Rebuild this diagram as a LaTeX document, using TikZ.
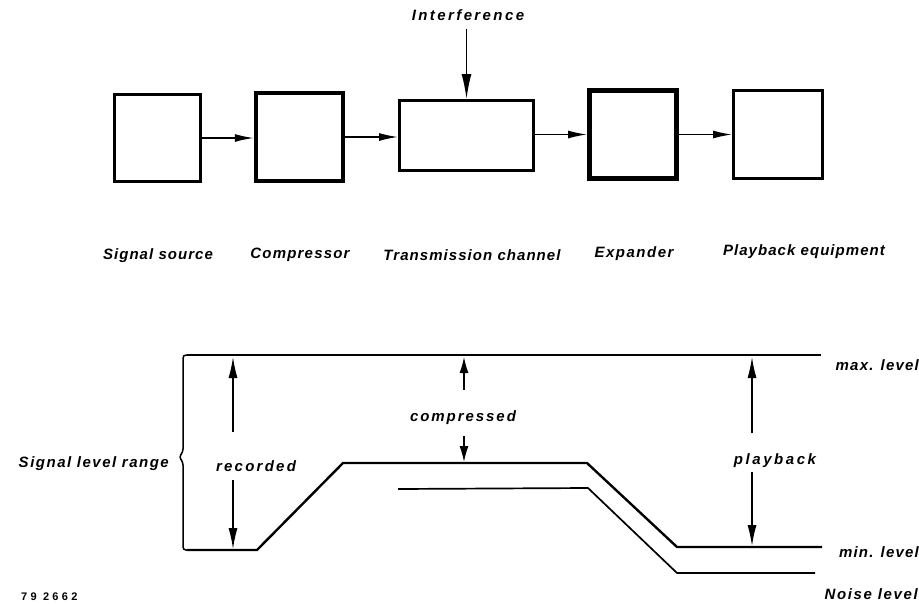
\documentclass[tikz,border=0pt]{standalone}
\usepackage{fontspec}
\setmainfont{Liberation Sans}
\usetikzlibrary{arrows.meta}
\tikzset{
  lab/.style={font=\fontsize{15}{17}\selectfont\bfseries\itshape\addfontfeature{LetterSpace=#1}, inner sep=0pt},
  lab/.default=7,
  blk/.style={draw, rectangle, inner sep=0pt, fill=white},
  arr/.style={line width=1.4pt, -{Latex[length=19pt,width=8pt]}},
  varr/.style={line width=1.3pt, -{Latex[length=21pt,width=9pt]}},
  lvl/.style={line width=2.4pt},
  noise/.style={line width=1.7pt},
}
\begin{document}
\begin{tikzpicture}[x=1pt,y=-1pt]
\useasboundingbox (0,0) rectangle (919,603);
% top blocks
\node[blk, line width=3pt, minimum width=86pt, minimum height=87pt] (b1) at (157.5,138) {};
\node[blk, line width=4.5pt, minimum width=87pt, minimum height=88pt] (b2) at (299.5,137) {};
\node[blk, line width=3pt, minimum width=134pt, minimum height=70pt] (b3) at (466.5,135.5) {};
\node[blk, line width=5pt, minimum width=87pt, minimum height=88pt] (b4) at (633,134.5) {};
\node[blk, line width=3pt, minimum width=89pt, minimum height=88pt] (b5) at (778,134.5) {};
\draw[arr] (b1.east) -- (b1.east -| b2.west);
\draw[arr] (b2.east) -- (b2.east -| b3.west);
\draw[arr] (b3.east |- b4.west) -- (b4.west);
\draw[arr] (b4.east) -- (b5.west);
\node[lab=16] (intf) at (468,15) {Interference};
\draw[line width=1.5pt, -{Latex[length=25pt,width=10pt]}] ([yshift=-8pt]intf.south -| b3.north) -- (b3.north);
% block labels
\node[lab] (l1) at (158,256) {Signal source};
\node[lab=8] (l2) at (300,255) {Compressor};
\node[lab] (l3) at (472,255) {Transmission channel};
\node[lab=10] (l4) at (634,254) {Expander};
\node[lab] (l5) at (804,252) {Playback equipment};
% level diagram
\draw[line width=1.5pt, rounded corners=3pt] (192,355) -- (183,355) -- (183,452) -- (179,457) -- (183,462) -- (183,550) -- (192,550);
\draw[lvl] (187,355) -- (821,355);
\draw[lvl] (187,550) -- (257,550) -- (343,463) -- (587,463) -- (677,547) -- (822,547);
\draw[noise] (398,489) -- (588,488) -- (677,573) -- (815,573);
% labels
\node[lab=10, anchor=east] (slr) at (169,464) {Signal level range};
\node[lab=15] (rec) at (256,466) {recorded};
\node[lab=13] (cmp) at (463,418) {compressed};
\node[lab=17] (pb) at (775,461) {playback};
\node[lab=8, anchor=east] (mx) at (919,365) {max. level};
\node[lab=8, anchor=east] (mn) at (919,552) {min. level};
\node[lab=11, anchor=east] (nl) at (918,594) {Noise level};
\node[font=\fontsize{11}{13}\selectfont\bfseries\addfontfeature{LetterSpace=30}, inner sep=0pt, anchor=west] (num) at (21,597) {79 2662};
% vertical arrows
\coordinate (r1) at (233,432); \coordinate (r1e) at (233,357);
\coordinate (r2) at (233,480); \coordinate (r2e) at (233,549);
\coordinate (c1) at (464,390); \coordinate (c1e) at (464,357);
\coordinate (c2) at (464,436); \coordinate (c2e) at (464,462);
\coordinate (p1) at (752,433); \coordinate (p1e) at (752,357);
\coordinate (p2) at (752,472); \coordinate (p2e) at (752,546);
\draw[varr] (r1) -- (r1e);
\draw[varr] (r2) -- (r2e);
\draw[line width=1.3pt, -{Latex[length=16pt,width=9pt]}] (c1) -- (c1e);
\draw[line width=1.3pt, -{Latex[length=16pt,width=9pt]}] (c2) -- (c2e);
\draw[varr] (p1) -- (p1e);
\draw[varr] (p2) -- (p2e);
\end{tikzpicture}
\end{document}
